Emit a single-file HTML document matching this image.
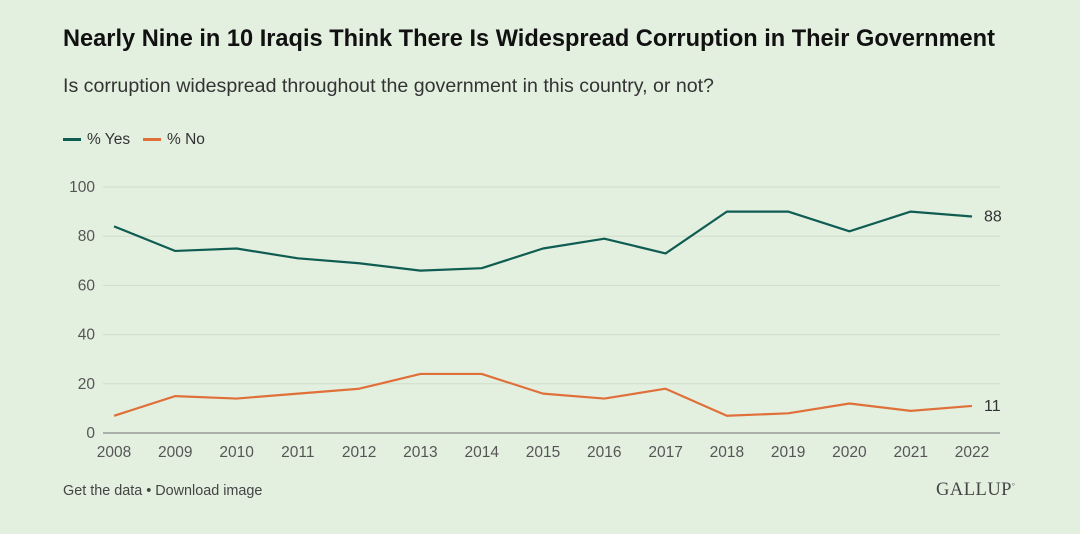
<!DOCTYPE html>
<html><head><meta charset="utf-8"><style>
body{margin:0;width:1080px;height:534px;background:#e3f0e0;font-family:"Liberation Sans",sans-serif;overflow:hidden;position:relative}
.t{position:absolute;white-space:nowrap}
</style></head><body>
<div class="t" style="left:63px;top:26px;font-size:23.6px;font-weight:bold;color:#111">Nearly Nine in 10 Iraqis Think There Is Widespread Corruption in Their Government</div>
<div class="t" style="left:63px;top:75px;font-size:19.6px;color:#333">Is corruption widespread throughout the government in this country, or not?</div>
<div class="t" style="left:63px;top:131px;font-size:15.5px;color:#333"><span style="display:inline-block;width:18px;height:3px;background:#0f5d52;vertical-align:middle;margin-right:6px"></span>% Yes</div>
<div class="t" style="left:143px;top:131px;font-size:15.5px;color:#333"><span style="display:inline-block;width:18px;height:3px;background:#e0703a;vertical-align:middle;margin-right:6px"></span>% No</div>
<svg id="chart" width="1080" height="534" style="position:absolute;left:0;top:0"></svg>
<div class="t" style="left:63px;top:483px;font-size:14.4px;color:#444">Get the data • Download image</div>
<div class="t" style="left:936px;top:480px;font-size:18.5px;font-family:'Liberation Serif',serif;color:#444;letter-spacing:0.5px">GALLUP<sup style="font-size:7px">°</sup></div>
<script>
const years=[2008,2009,2010,2011,2012,2013,2014,2015,2016,2017,2018,2019,2020,2021,2022];
const yesVals=[84,74,75,71,69,66,67,75,79,73,90,90,82,90,88];
const noVals=[7,15,14,16,18,24,24,16,14,18,7,8,12,9,11];
const yTicks=[0,20,40,60,80,100];
const svg=document.getElementById('chart');
const NS='http://www.w3.org/2000/svg';
const x=i=>114+i*(972-114)/(years.length-1);
const y=v=>433-v*2.46;
function mk(tag,attrs){const e=document.createElementNS(NS,tag);for(const k in attrs)e.setAttribute(k,attrs[k]);svg.appendChild(e);return e;}
yTicks.forEach(t=>{
 const g=mk('line',{x1:103,x2:1000,y1:y(t),y2:y(t),stroke:t===0?'#888':'#cfdccb','stroke-width':t===0?1.2:1});
 
 
 const l=mk('text',{x:95,y:y(t)+5,'text-anchor':'end','font-size':15.5,fill:'#555'});
 l.textContent=t;
 
 
});
years.forEach((yr,i)=>{
 const l=mk('text',{x:x(i),y:457,'text-anchor':'middle','font-size':15.5,fill:'#555'});
 l.textContent=yr;
 
 
});
function series(vals,color,name){
 const p=mk('polyline',{points:vals.map((v,i)=>x(i)+','+y(v)).join(' '),fill:'none',stroke:color,'stroke-width':2.2,'stroke-linejoin':'round'});
 
 
 const last=vals.length-1;
 const l=mk('text',{x:x(last)+12,y:y(vals[last])+5,'font-size':16,fill:'#333'});
 l.textContent=vals[last];
 
 
}
series(yesVals,'#0f5d52','yes');
series(noVals,'#e0703a','no');
</script>
</body></html>
